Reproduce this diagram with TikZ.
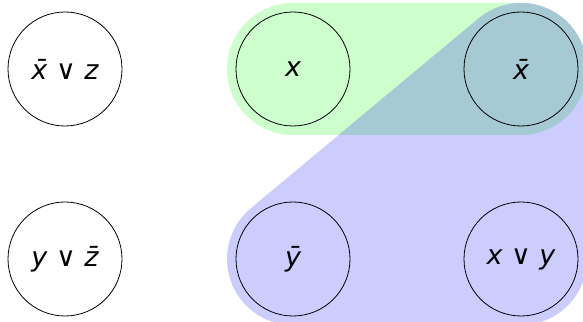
\documentclass[tikz,border=0pt]{standalone}
\usepackage{fontspec}
\newfontfamily\clausefont{DejaVu Sans}
\definecolor{bandgreen}{HTML}{CCFFCC}
\definecolor{hullblue}{HTML}{CCCCFF}
\definecolor{bothteal}{HTML}{A5CAD4}
% rounded band round x and \bar x, hull round \bar x, \bar y, x or y
\newcommand\greenband{(293,318) -- (521,318) arc[start angle=90, end angle=-90, radius=66]
  -- (293,186) arc[start angle=270, end angle=90, radius=66] -- cycle}
\newcommand\bluehull{(521,318) arc[start angle=90, end angle=0, radius=66]
  -- (587,62) arc[start angle=0, end angle=-90, radius=66]
  -- (293,-4) arc[start angle=270, end angle=129.8, radius=66]
  -- ++(228,190) arc[start angle=129.8, end angle=90, radius=66] -- cycle}
\begin{document}
\begin{tikzpicture}[x=1pt, y=1pt,
  clause/.style={circle, draw, line width=0.8pt, minimum size=114pt, inner sep=0pt,
    font=\clausefont\itshape\fontsize{27}{31}\selectfont}]
  \useasboundingbox (0,0) rectangle (583,321);

  % Groups
  \fill[bandgreen] \greenband;
  \fill[hullblue] \bluehull;
  \begin{scope}
    \clip \greenband;
    \fill[bothteal] \bluehull;
  \end{scope}

  % Clauses
  \node[clause] (c1) at (65,252) {x̄ ∨ z};
  \node[clause] (c2) at (65,62) {y ∨ z̄};
  \node[clause] (x) at (293,252) {x};
  \node[clause] (nx) at (521,252) {x̄};
  \node[clause] (ny) at (293,62) {ȳ};
  \node[clause] (xy) at (521,62) {x ∨ y};
\end{tikzpicture}
\end{document}
